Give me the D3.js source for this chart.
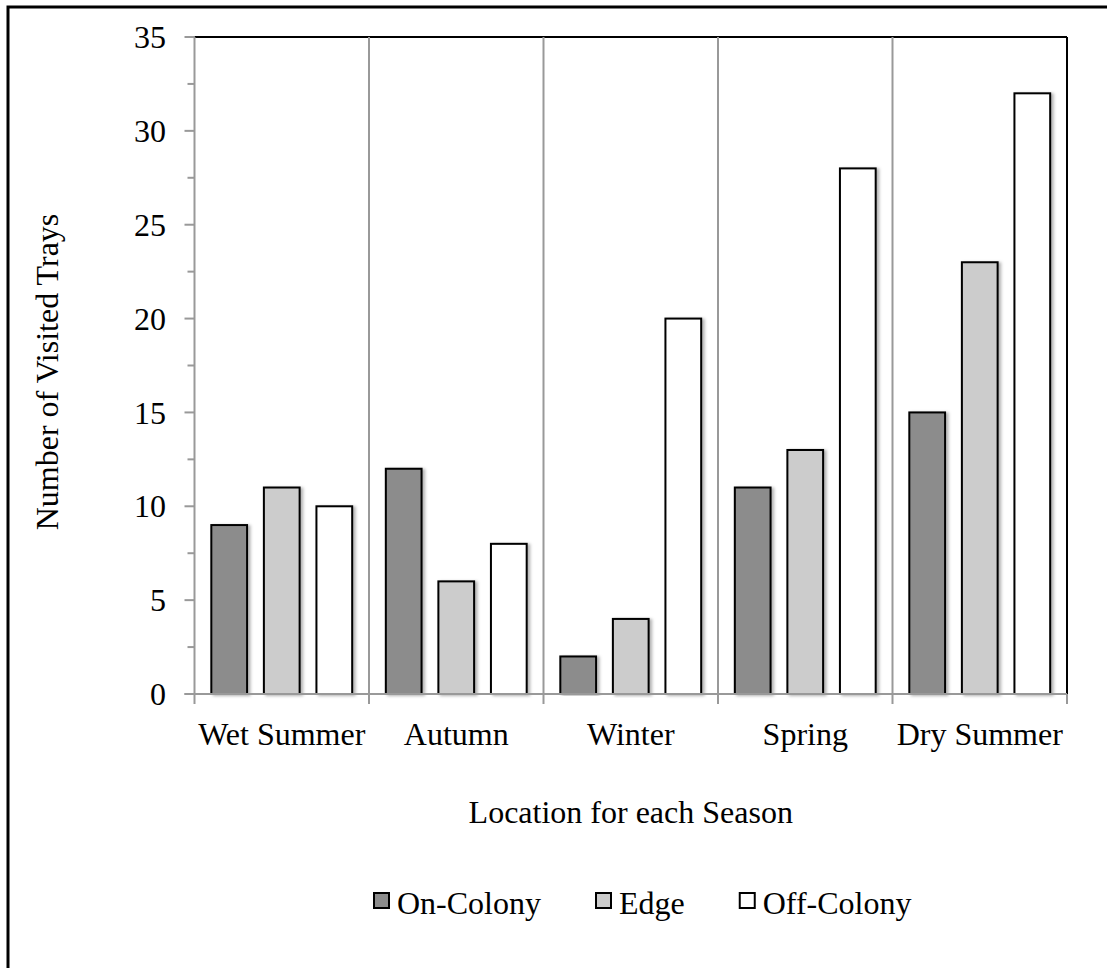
<!DOCTYPE html>
<html>
  <head>
    <script src="https://d3js.org/d3.v7.min.js"></script>
    <style>
      body { margin: 0; background: #fff; }
      text { font-family: "Liberation Serif", "Times New Roman", serif; fill: #000; }
    </style>
  </head>
  <body>
    <svg id="chart" width="1107" height="968"></svg>
    <script>
      // data
      const seasons = ["Wet Summer", "Autumn", "Winter", "Spring", "Dry Summer"];
      const series = ["On-Colony", "Edge", "Off-Colony"];
      const onColony = [9, 12, 2, 11, 15];
      const edge = [11, 6, 4, 13, 23];
      const offColony = [10, 8, 20, 28, 32];
      const yTicks = [0, 5, 10, 15, 20, 25, 30, 35];
      const colors = ["#8c8c8c", "#cccccc", "#ffffff"];

      const values = [onColony, edge, offColony];
      const rows = seasons.map((s, i) => ({
        season: s,
        vals: series.map((k, j) => ({ key: k, value: values[j][i], idx: j }))
      }));

      const svg = d3.select("#chart");
      const plotL = 194.5, plotR = 1067, plotT = 37, plotB = 694;
      const fs = "32px";

      // outer frame (only left + top edges are visible in the picture)
      svg.append("rect")
        .attr("x", 8).attr("y", 7)
        .attr("width", 1300).attr("height", 1200)
        .attr("fill", "none").attr("stroke", "#000").attr("stroke-width", 3);

      const defs = svg.append("defs");
      const f = defs.append("filter").attr("id", "shadow")
        .attr("x", "-20%").attr("y", "-5%").attr("width", "150%").attr("height", "110%");
      f.append("feDropShadow")
        .attr("dx", 2.5).attr("dy", 1).attr("stdDeviation", 1.5)
        .attr("flood-color", "#000").attr("flood-opacity", 0.3);

      const x = d3.scaleBand().domain(seasons).range([plotL, plotR]).padding(0);
      const xi = d3.scaleBand().domain(series).range([0, x.bandwidth()]).padding(0.32);
      const y = d3.scaleLinear().domain([0, 35]).range([plotB, plotT]);

      // plot border: black top + right
      svg.append("line")
        .attr("x1", plotL).attr("x2", plotR).attr("y1", plotT).attr("y2", plotT)
        .attr("stroke", "#000").attr("stroke-width", 2);
      svg.append("line")
        .attr("x1", plotR).attr("x2", plotR).attr("y1", plotT).attr("y2", plotB)
        .attr("stroke", "#000").attr("stroke-width", 2);

      // vertical separators between seasons
      svg.append("g").selectAll("line")
        .data(seasons.slice(1))
        .join("line")
          .attr("x1", d => x(d)).attr("x2", d => x(d))
          .attr("y1", plotT).attr("y2", plotB)
          .attr("stroke", "#999").attr("stroke-width", 2);

      // bars
      svg.append("g").selectAll("g")
        .data(rows)
        .join("g")
          .attr("transform", d => `translate(${x(d.season)},0)`)
        .selectAll("rect")
        .data(d => d.vals)
        .join("rect")
          .attr("x", d => xi(d.key))
          .attr("y", d => y(d.value))
          .attr("width", xi.bandwidth())
          .attr("height", d => y(0) - y(d.value))
          .attr("fill", d => colors[d.idx])
          .attr("stroke", "#000")
          .attr("stroke-width", 2)
          .attr("filter", "url(#shadow)");

      // y axis with minor ticks
      const yMinor = d3.range(2.5, 35, 5);
      svg.append("line")
        .attr("x1", plotL).attr("x2", plotL).attr("y1", plotT).attr("y2", plotB)
        .attr("stroke", "#999").attr("stroke-width", 2);
      svg.append("g").selectAll("line")
        .data(yTicks)
        .join("line")
          .attr("x1", plotL - 10).attr("x2", plotL)
          .attr("y1", d => y(d)).attr("y2", d => y(d))
          .attr("stroke", "#999").attr("stroke-width", 2);
      svg.append("g").selectAll("line")
        .data(yMinor)
        .join("line")
          .attr("x1", plotL - 7).attr("x2", plotL)
          .attr("y1", d => y(d)).attr("y2", d => y(d))
          .attr("stroke", "#999").attr("stroke-width", 2);
      svg.append("g").selectAll("text")
        .data(yTicks)
        .join("text")
          .attr("x", 166)
          .attr("y", d => y(d))
          .attr("dy", "0.35em")
          .attr("text-anchor", "end")
          .style("font-size", fs)
          .text(d => d);

      // x axis
      svg.append("line")
        .attr("x1", plotL - 10).attr("x2", plotR).attr("y1", plotB).attr("y2", plotB)
        .attr("stroke", "#999").attr("stroke-width", 2);
      const bounds = seasons.map(s => x(s)).concat([plotR]);
      svg.append("g").selectAll("line")
        .data(bounds)
        .join("line")
          .attr("x1", d => d).attr("x2", d => d)
          .attr("y1", plotB).attr("y2", plotB + 10)
          .attr("stroke", "#999").attr("stroke-width", 2);
      svg.append("g").selectAll("text")
        .data(seasons)
        .join("text")
          .attr("x", d => x(d) + x.bandwidth() / 2)
          .attr("y", 745)
          .attr("text-anchor", "middle")
          .style("font-size", fs)
          .text(d => d);

      // axis titles
      svg.append("text")
        .attr("x", (plotL + plotR) / 2)
        .attr("y", 823)
        .attr("text-anchor", "middle")
        .style("font-size", fs)
        .text("Location for each Season");

      svg.append("text")
        .attr("transform", "translate(58,372) rotate(-90)")
        .attr("text-anchor", "middle")
        .style("font-size", fs)
        .text("Number of Visited Trays");

      // legend
      const legend = svg.append("g").attr("transform", "translate(373,0)");
      let lx = 0;
      series.forEach((s, i) => {
        const g = legend.append("g").attr("transform", `translate(${lx},0)`);
        g.append("rect")
          .attr("x", 1).attr("y", 893)
          .attr("width", 15).attr("height", 15)
          .attr("fill", colors[i])
          .attr("stroke", "#000").attr("stroke-width", 2);
        const t = g.append("text")
          .attr("x", 24).attr("y", 914)
          .style("font-size", fs)
          .text(s);
        lx += 24 + t.node().getComputedTextLength() + 54;
      });
    </script>
  </body>
</html>
